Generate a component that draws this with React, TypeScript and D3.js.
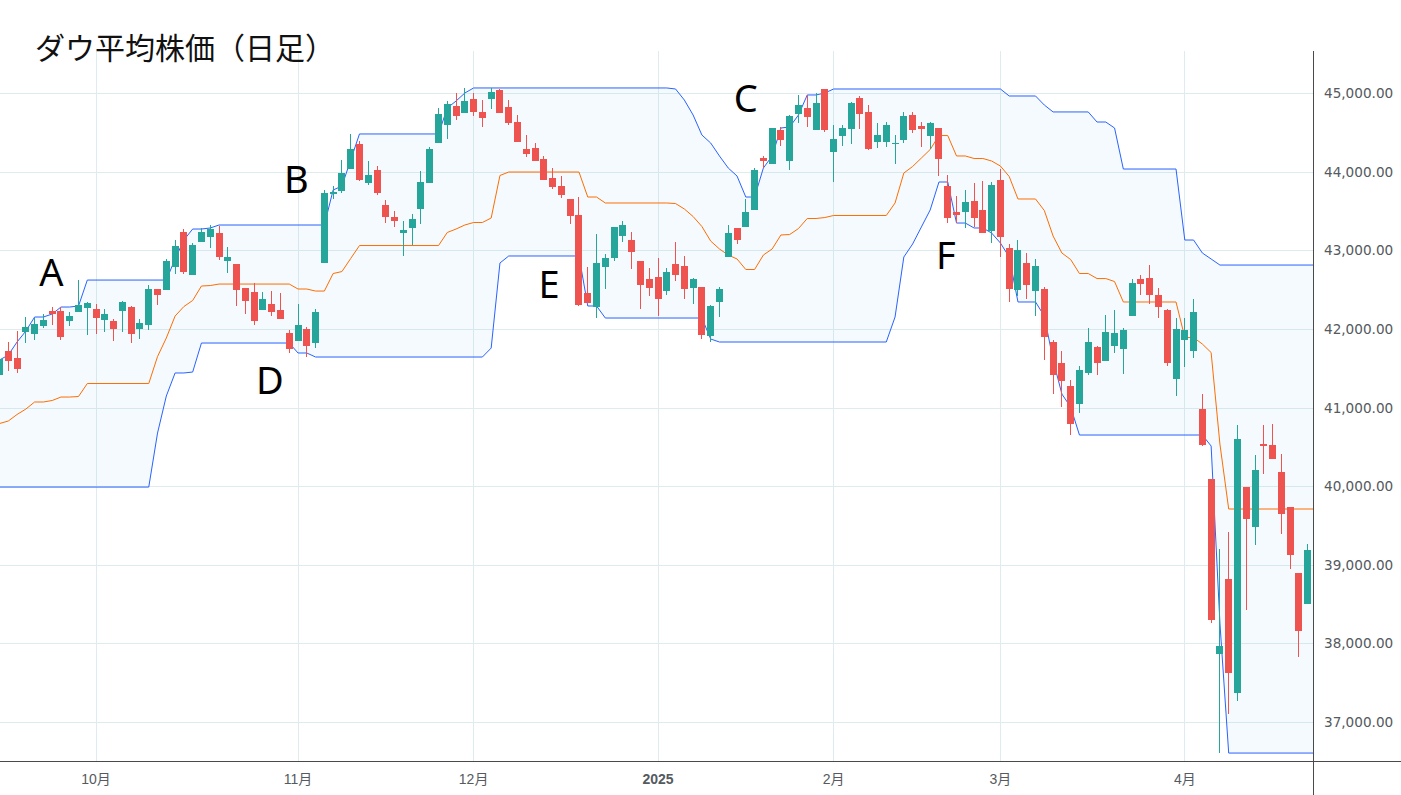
import React from "react";
import * as d3 from "d3";

const titleText = "ダウ平均株価（日足）";
const priceTicks = [37000, 38000, 39000, 40000, 41000, 42000, 43000, 44000, 45000];
const monthIndex = [11, 34, 54, 75, 95, 114, 135];
const monthLabels = ["10月", "11月", "12月", "2025", "2月", "3月", "4月"];
const annotationIndexPrice: [string, number, number][] = [
  ["A", 5.9, 42550],
  ["B", 33.8, 43730],
  ["C", 85, 44760],
  ["D", 30.8, 41170],
  ["E", 62.6, 42390],
  ["F", 107.8, 42760],
];

const highs = [41667,41833,41972,42151,42138,42189,42278,42278,42214,42621,42342,42316,42252,42125,42354,42291,42125,42558,42507,42889,
43130,43270,43092,43283,43321,43308,43041,42825,42519,42583,42469,42481,42456,41985,42316,42024,42252,43766,43817,44148,
44479,44389,44135,44071,43639,43499,43372,43461,44008,44313,44809,44898,45000,45064,45000,44911,45064,45051,44911,44720,
44466,44364,44199,44046,43944,43652,43677,42787,43206,42952,43296,43372,43232,42863,42774,42901,42774,43105,42927,42647,
42532,42303,42532,43321,43283,43652,44046,44199,44555,44568,44720,44975,44975,45000,45051,44593,44593,44885,44962,44847,
44619,44631,44466,44759,44759,44631,44631,44555,43957,43690,43766,43855,43881,43868,44033,43079,43130,42965,42889,42532,
41858,41718,41349,41528,42011,41782,42176,42240,42011,42634,42685,42812,42519,42252,42138,42138,42380,41171,40090,39200,
39416,40777,39988,40395,40777,40790,40408,39734,38895,39263];

const lows = [41400,41464,41439,41820,41858,42011,42049,41858,42036,42214,41922,41934,41960,41845,41960,41820,41871,41985,42303,42494,
42698,42698,42685,43105,43029,42876,42711,42291,42189,42049,42240,42163,42125,41693,41845,41642,41756,42838,43652,43728,
44033,43881,43830,43703,43346,43296,42927,43067,43334,43855,44364,44415,44657,44746,44708,44568,44797,44746,44593,44377,
44186,44135,43893,43779,43665,43334,42291,42329,42138,42507,42863,43105,42761,42252,42418,42163,42431,42609,42380,42316,
41871,41833,42151,42914,43079,43296,43512,44046,44097,44326,44021,44619,44568,44529,44504,43868,44326,44351,44542,44275,
44301,44313,44097,44364,44491,44313,44288,43944,43346,43346,43283,43296,43219,43092,42914,42342,42418,42380,42163,41604,
41171,41006,40650,40930,41413,41413,41591,41693,41426,42163,42431,42316,42138,41528,41146,41515,41629,40510,38259,36605,
37101,37266,38424,39251,40154,40345,39391,38945,37826,38500];

const opens = [41413,41718,41629,41960,41934,42036,42227,42227,42100,42214,42265,42252,42113,42100,42227,42278,41998,42049,42507,42494,
42787,43232,42685,43105,43168,43219,42863,42825,42519,42469,42240,42316,42240,41947,41845,41998,41820,42838,43715,43753,
44033,44351,43855,44021,43575,43423,43219,43283,43525,43855,44364,44593,44835,44746,44924,44759,44924,45038,44822,44631,
44288,44301,44161,43919,43817,43652,43448,42456,42278,42787,42901,43181,43130,42863,42634,42660,42481,42825,42800,42520,
42532,41909,42342,42914,43283,43296,43512,44173,44097,44529,44135,44733,44809,44529,45051,44250,44453,44542,44936,44759,
44377,44377,44351,44402,44720,44580,44453,44555,43817,43486,43486,43626,43512,43245,43893,43029,42494,42838,42481,42507,
41833,41566,41273,41044,41439,41769,41591,41782,41743,42163,42634,42647,42431,42240,41362,41858,41718,40980,40090,37864,
38818,37368,39988,39480,40535,40522,40179,39734,38895,38500];

const closes = [41617,41591,41490,42024,42062,42113,42189,41896,42163,42303,42329,42138,42189,41998,42342,41934,42074,42507,42431,42863,
43054,42723,43067,43232,43270,42914,42914,42494,42354,42100,42380,42214,42125,41743,42049,41782,42214,43728,43741,43982,
44288,43893,43957,43728,43423,43372,43257,43397,43868,44288,44733,44860,44708,44898,44759,44682,45013,44746,44619,44377,
44224,44135,43893,43804,43703,43436,42303,42329,42838,42901,43296,43321,42978,42558,42520,42380,42723,42685,42507,42634,
41922,42291,42507,43219,43130,43486,44021,44135,44555,44402,44707,44847,44695,44873,44529,44415,44555,44873,44733,44288,
44466,44593,44364,44707,44529,44542,44618,44161,43410,43448,43614,43410,43219,43830,43168,42507,43003,42558,42800,41896,
41413,41337,40790,41477,41833,41566,41960,41947,41985,42583,42570,42431,42278,41566,41998,41985,42214,40522,38297,37966,
37622,40599,39581,40205,40510,40345,39645,39123,38157,39187];

const upperIndex = [0,1,2,3,4,5,6,7,8,9,10,19,20,21,22,23,24,25,37,38,39,40,41,50,51,52,53,54,76,77,78,79,80,81,82,83,84,85,86,87,88,89,90,91,92,93,94,95,114,115,118,119,120,124,125,126,127,128,134,135,136,137,138,139,151];
const upperValues = [41604,41667,41833,41972,42151,42151,42189,42278,42278,42291,42621,42621,42889,43130,43270,43270,43283,43321,43321,43766,43817,44148,44479,44479,44809,44898,45000,45064,45064,45051,44911,44720,44466,44364,44199,44046,43944,43677,43677,44046,44199,44555,44568,44720,44975,44975,45000,45051,45051,44962,44962,44847,44759,44759,44631,44631,44555,44033,44033,43130,43130,42965,42889,42812,42812];

const lowerIndex = [0,17,18,19,20,21,22,23,33,34,35,36,55,56,57,58,66,67,68,69,80,81,82,101,102,103,104,105,106,107,108,109,110,111,112,113,114,115,116,118,119,120,121,122,123,137,138,139,140,151];
const lowerValues = [39988,39988,40675,41146,41439,41439,41451,41820,41820,41693,41693,41642,41642,41756,42838,42927,42927,42291,42291,42138,42138,41871,41833,41833,42151,42914,43079,43296,43512,43868,43868,43346,43346,43283,43283,43219,43092,42914,42342,42342,42163,41604,41171,41006,40650,40650,40510,38259,36605,36605];

const midIndex = [0,1,2,3,4,5,6,7,8,9,10,17,18,19,20,21,22,23,24,25,33,34,35,36,37,38,39,40,41,50,51,52,53,54,55,56,57,58,66,67,68,69,76,77,78,79,80,81,82,83,84,85,86,87,88,89,90,91,92,93,94,95,101,102,103,104,105,106,107,108,109,110,111,112,113,114,115,116,118,119,120,121,122,123,124,125,126,127,128,134,135,136,137,138,139,140,151];
const midValues = [40796,40828,40911,40980,41070,41070,41089,41133,41133,41140,41305,41305,41648,41884,42163,42284,42361,42545,42551,42570,42570,42507,42507,42481,42481,42704,42729,42895,43060,43060,43226,43270,43321,43353,43353,43410,43951,43995,43995,43677,43677,43601,43601,43594,43525,43429,43302,43117,43016,42939,42889,42755,42755,42939,43016,43194,43200,43276,43404,43404,43416,43442,43442,43601,43982,44065,44173,44281,44459,44459,44199,44199,44167,44167,44135,44071,43938,43652,43652,43505,43181,42965,42882,42704,42704,42640,42640,42602,42342,42342,41890,41890,41807,41699,40535,39709,39709];

const W = 1401;
const H = 795;
const plotRight = 1313;
const plotTop = 51;
const plotBottom = 761;

const x = d3.scaleLinear().domain([0, 149]).range([-0.5, 1307.72]);
const y = d3.scaleLinear().domain([37000, 45000]).range([722, 93]);

const upColor = "#26a69a";
const downColor = "#ef5350";
const gridColor = "#dfecef";
const axisColor = "#4a4a4a";
const labelColor = "#555a60";

const linePath = (idx: number[], vals: number[]) =>
  d3
    .line<number>()
    .x((d) => x(d))
    .y((_, i) => y(vals[i]))(idx) as string;

const upperAt = d3.scaleLinear().domain(upperIndex).range(upperValues);
const lowerAt = d3.scaleLinear().domain(lowerIndex).range(lowerValues);
const bandIndex = Array.from(new Set([...upperIndex, ...lowerIndex])).sort((a, b) => a - b);
const bandPath = d3
  .area<number>()
  .x((d) => x(d))
  .y0((d) => y(lowerAt(d)))
  .y1((d) => y(upperAt(d)))(bandIndex) as string;

const priceFormat = d3.format(",.2f");

export default function App() {
  return (
    <>
      <style>{`html,body{margin:0;padding:0;background:#fff;overflow:hidden}`}</style>
      <svg
        width={W}
        height={H}
        viewBox={`0 0 ${W} ${H}`}
        style={{ display: "block", position: "absolute", left: 0, top: 0, background: "#fff" }}
      >
        <defs>
          <clipPath id="plot">
            <rect x={0} y={plotTop} width={plotRight} height={plotBottom - plotTop} />
          </clipPath>
        </defs>

        <g shapeRendering="crispEdges" stroke={gridColor} strokeWidth={1}>
          {priceTicks.map((p) => (
            <line key={p} x1={0} x2={plotRight} y1={Math.round(y(p)) + 0.5} y2={Math.round(y(p)) + 0.5} />
          ))}
          {monthIndex.map((m) => (
            <line key={m} x1={Math.floor(x(m)) + 0.5} x2={Math.floor(x(m)) + 0.5} y1={plotTop} y2={plotBottom} />
          ))}
        </g>

        <g clipPath="url(#plot)">
          <path d={bandPath} fill="#2196f3" fillOpacity={0.05} stroke="none" />
          <path d={linePath(upperIndex, upperValues)} fill="none" stroke="#2962ff" strokeWidth={1} strokeLinejoin="round" />
          <path d={linePath(lowerIndex, lowerValues)} fill="none" stroke="#2962ff" strokeWidth={1} strokeLinejoin="round" />
          <path d={linePath(midIndex, midValues)} fill="none" stroke="#ff6d00" strokeWidth={1} strokeLinejoin="round" />

          <g shapeRendering="crispEdges">
            {opens.map((o, i) => {
              const c = closes[i];
              const color = c >= o ? upColor : downColor;
              const cx = Math.floor(x(i));
              const top = Math.round(y(Math.max(o, c)));
              const bot = Math.round(y(Math.min(o, c)));
              return (
                <g key={i} fill={color}>
                  <rect x={cx} y={y(highs[i])} width={1} height={y(lows[i]) - y(highs[i])} />
                  <rect x={cx - 3} y={top} width={7} height={Math.max(bot - top, 1)} />
                </g>
              );
            })}
          </g>
        </g>

        <g shapeRendering="crispEdges" stroke={axisColor} strokeWidth={1}>
          <line x1={0} x2={W} y1={761.5} y2={761.5} />
          <line x1={plotRight + 0.5} x2={plotRight + 0.5} y1={plotTop} y2={H} />
        </g>

        <g fontFamily="'DejaVu Sans'" fontSize={13.6} fill={labelColor}>
          {priceTicks.map((p) => (
            <text key={p} x={1324} y={y(p) + 5}>
              {priceFormat(p)}
            </text>
          ))}
        </g>

        <g fontFamily="'Liberation Sans','Noto Sans CJK JP'" fontSize={14} fill={labelColor} textAnchor="middle">
          {monthIndex.map((m, i) => (
            <text key={m} x={x(m)} y={784} fontWeight={monthLabels[i] === "2025" ? 700 : 400}>
              {monthLabels[i]}
            </text>
          ))}
        </g>

        <text x={35} y={59} fontFamily="'Noto Sans CJK JP'" fontSize={30} fill="#111">
          {titleText}
        </text>

        <g fontFamily="'Noto Sans','Open Sans'" fontSize={38} fill="#000" textAnchor="middle">
          {annotationIndexPrice.map(([t, i, p]) => (
            <text key={t} x={x(i)} y={y(p)}>
              {t}
            </text>
          ))}
        </g>
      </svg>
    </>
  );
}
